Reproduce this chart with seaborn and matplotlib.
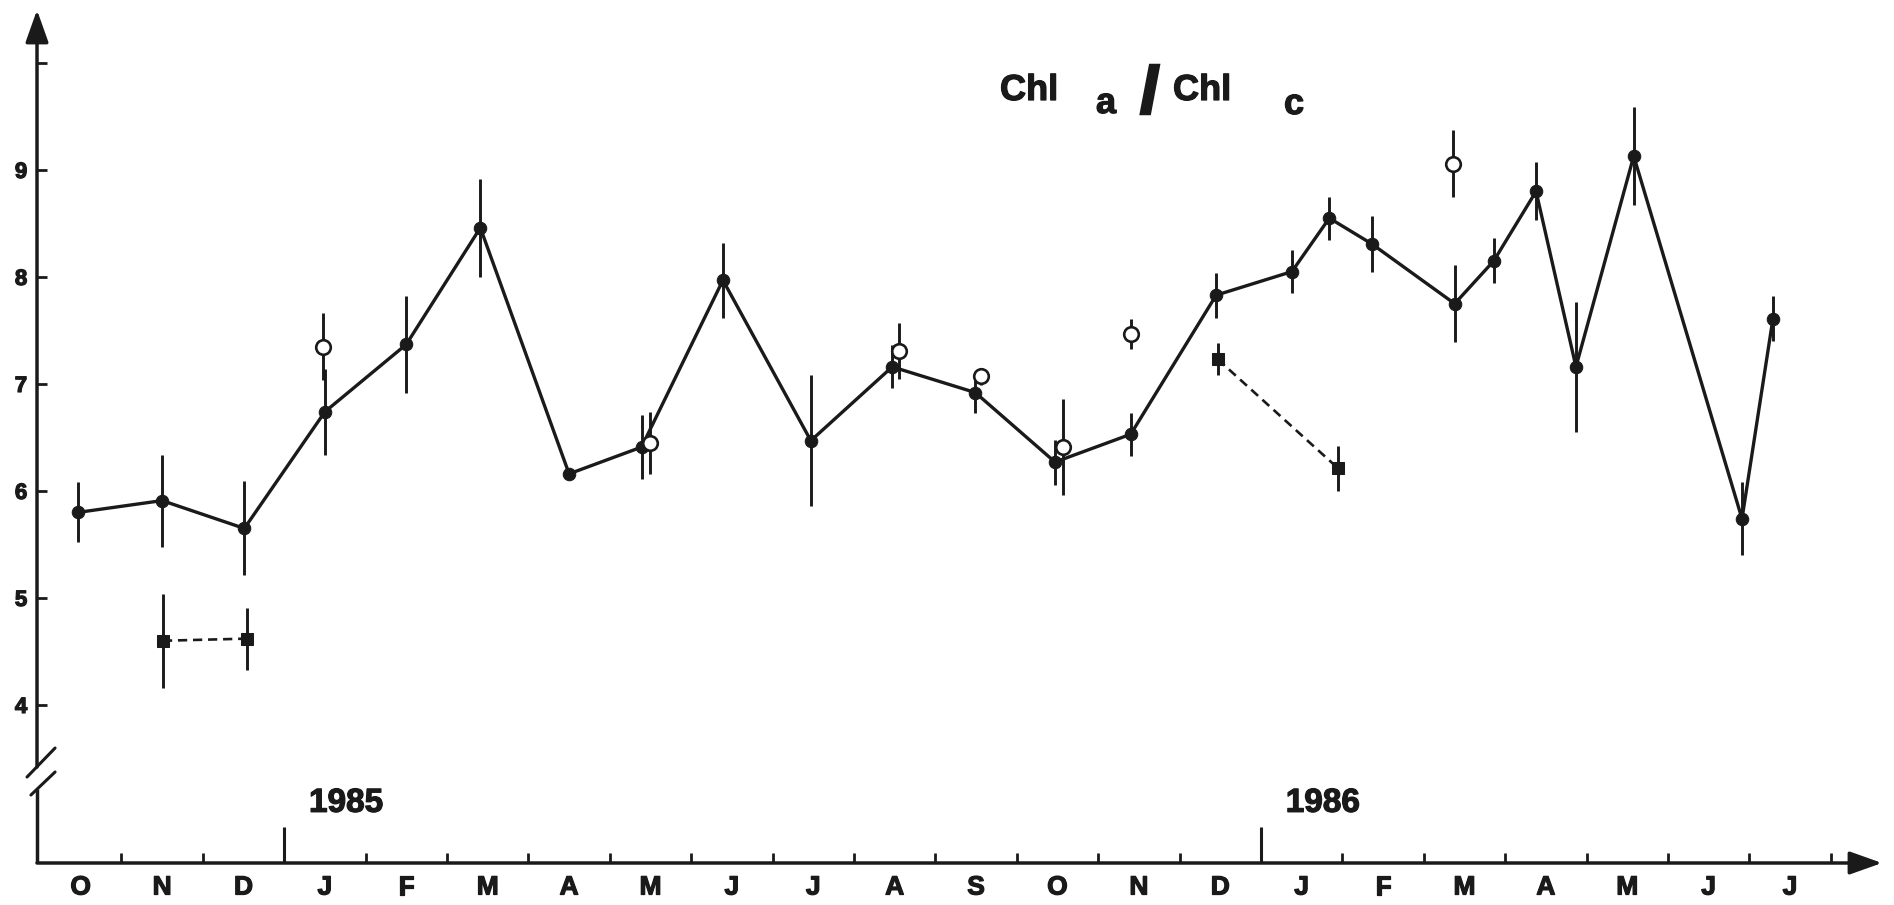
import matplotlib
matplotlib.use("Agg")
import matplotlib.pyplot as plt
import matplotlib.patheffects as pe
import seaborn as sns

# Time axis: months from October 1984 to July 1986 (index 0 = start of Oct 1984)
month_labels = ["O", "N", "D", "J", "F", "M", "A", "M", "J", "J", "A",
                "S", "O", "N", "D", "J", "F", "M", "A", "M", "J", "J"]
year_labels = ["1985", "1986"]
year_starts = [3, 15]
y_ticks = [4, 5, 6, 7, 8, 9, 10]
y_ticklabels = ["4", "5", "6", "7", "8", "9", ""]

# Main Chl a / Chl c series (sampling date in months, ratio, +/- error)
main_t = [0.47, 1.50, 2.51, 3.50, 4.50, 5.41, 6.50, 7.39, 8.39, 9.47, 10.47,
          11.49, 12.47, 13.40, 14.45, 15.38, 15.84, 16.36, 17.38, 17.86,
          18.38, 18.87, 19.58, 20.91, 21.29]
main_ratio = [5.80, 5.91, 5.65, 6.74, 7.37, 8.46, 6.16, 6.41, 7.97, 6.47, 7.16,
              6.92, 6.27, 6.53, 7.83, 8.05, 8.55, 8.31, 7.75, 8.15,
              8.80, 7.16, 9.13, 5.74, 7.61]
main_err = [0.28, 0.43, 0.44, 0.40, 0.45, 0.46, 0.00, 0.30, 0.35, 0.61, 0.20,
            0.19, 0.21, 0.20, 0.21, 0.20, 0.20, 0.26, 0.36, 0.21,
            0.27, 0.61, 0.46, 0.34, 0.21]

# Isolated samples (open circles)
open_t = [3.48, 7.50, 10.55, 11.56, 12.57, 13.40, 17.36]
open_ratio = [7.35, 6.45, 7.31, 7.07, 6.41, 7.47, 9.06]
open_err = [0.31, 0.29, 0.26, 0.08, 0.45, 0.14, 0.31]

# Two short series (filled squares, dashed)
sq1_t = [1.51, 2.54]
sq1_ratio = [4.60, 4.62]
sq1_err = [0.44, 0.29]
sq2_t = [14.47, 15.95]
sq2_ratio = [7.23, 6.21]
sq2_err = [0.15, 0.21]

sns.set_theme(style="white")
plt.rcParams["font.family"] = ["Liberation Sans", "DejaVu Sans"]
plt.rcParams["font.weight"] = "bold"
for key in ("text.color", "axes.labelcolor", "xtick.color", "ytick.color",
            "axes.edgecolor"):
    plt.rcParams[key] = "black"

# slight ink spread on the lettering
heavy = [pe.withStroke(linewidth=0.9, foreground="k")]

W, H = 1894, 905
fig = plt.figure(figsize=(W / 100, H / 100), dpi=100)
ax = fig.add_axes([37 / W, 42 / H, 1845 / W, 853 / H])
ax.set_xlim(-0.037, 22.63)
ax.set_ylim(2.523, 10.495)
for s in ax.spines.values():
    s.set_visible(False)

# error bars
for t, r, e in ((main_t, main_ratio, main_err), (open_t, open_ratio, open_err),
                (sq1_t, sq1_ratio, sq1_err), (sq2_t, sq2_ratio, sq2_err)):
    ax.errorbar(t, r, yerr=e, fmt="none", ecolor="k", elinewidth=2.1,
                capsize=0, zorder=2)

# main line with filled circles
sns.lineplot(x=main_t, y=main_ratio, sort=False, estimator=None, color="k",
             lw=2.4, marker="o", markersize=9, markeredgecolor="k",
             markerfacecolor="k", ax=ax, zorder=3)

# dashed square series
for t, r in ((sq1_t, sq1_ratio), (sq2_t, sq2_ratio)):
    sns.lineplot(x=t, y=r, sort=False, estimator=None, color="k", lw=1.9,
                 marker="s", markersize=9, markeredgecolor="k",
                 markerfacecolor="k", ax=ax, zorder=3)
    ax.get_lines()[-1].set_dashes((3.5, 2.2))

# open circles
sns.scatterplot(x=open_t, y=open_ratio, marker="o", s=110, facecolor="white",
                edgecolor="k", linewidth=1.9, ax=ax, zorder=4)

# y axis ticks
ax.set_yticks(y_ticks)
ax.set_yticklabels(y_ticklabels, fontsize=16, fontweight="bold")
ax.tick_params(axis="y", direction="in", length=7, width=2, color="k",
               pad=7, left=True, right=False, labelcolor="k")

# x axis: labels at month centres, small ticks at month boundaries
n = len(month_labels)
ax.set_xticks([i + 0.5 for i in range(n)])
ax.set_xticklabels(month_labels, fontsize=19, fontweight="bold")
ax.set_xticks([k for k in range(1, n + 1) if k not in year_starts], minor=True)
ax.tick_params(axis="x", which="major", length=0, pad=9, bottom=True,
               labelcolor="k")
ax.tick_params(axis="x", which="minor", direction="in", length=7, width=2,
               color="k", bottom=True)
ax.grid(False)
for lab in ax.get_xticklabels() + ax.get_yticklabels():
    lab.set_path_effects(heavy)

# taller ticks where each year starts, with year labels
ybot = ax.get_ylim()[0]
ax.vlines(year_starts, ybot, ybot + 0.34, color="k", lw=2.2, zorder=3)
for ys, lab in zip(year_starts, year_labels):
    ax.text(ys + 0.76, 0.060, lab, transform=ax.get_xaxis_transform(),
            ha="center", va="baseline", fontsize=24, fontweight="bold",
            color="k", path_effects=heavy)

# axis lines with arrowheads and a break on the y axis
arrow = dict(arrowstyle="-|>,head_length=0.9,head_width=0.32", lw=2.5,
             color="k", shrinkA=0, shrinkB=0, mutation_scale=22)
ax.annotate("", xy=(1.0, 0.0), xytext=(0.0, 0.0), xycoords="axes fraction",
            textcoords="axes fraction", arrowprops=arrow, annotation_clip=False)
ax.annotate("", xy=(0.0, 1.0), xytext=(0.0, 0.1125), xycoords="axes fraction",
            textcoords="axes fraction", arrowprops=arrow, annotation_clip=False)
ax.plot([0, 0], [0, 0.0868], transform=ax.transAxes, color="k", lw=2.5,
        clip_on=False, solid_capstyle="butt")
ax.plot([-0.0054, 0.0098], [0.1008, 0.1348], transform=ax.transAxes,
        color="k", lw=2.2, clip_on=False)
ax.plot([-0.0033, 0.0098], [0.0797, 0.1067], transform=ax.transAxes,
        color="k", lw=2.2, clip_on=False)
ax.set_xlabel("")
ax.set_ylabel("")


# title "Chl a / Chl c" with lowered a and c
def fx(px):
    return px / W


def fy(py):
    return 1 - py / H


tkw = dict(fontsize=26, fontweight="bold", va="baseline", ha="left",
           color="k", path_effects=heavy)
fig.text(fx(1000), fy(100), "Chl", **tkw)
fig.text(fx(1096), fy(113), "a", **tkw)
fig.text(fx(1141), fy(112), "/", fontsize=46, fontweight="bold",
         va="baseline", ha="left", color="k",
         path_effects=[pe.withStroke(linewidth=2.8, foreground="k",
                                     joinstyle="miter", capstyle="butt")])
fig.text(fx(1173), fy(100), "Chl", **tkw)
fig.text(fx(1284), fy(114), "c", **tkw)

fig.savefig("out.png", dpi=100, facecolor="white")
